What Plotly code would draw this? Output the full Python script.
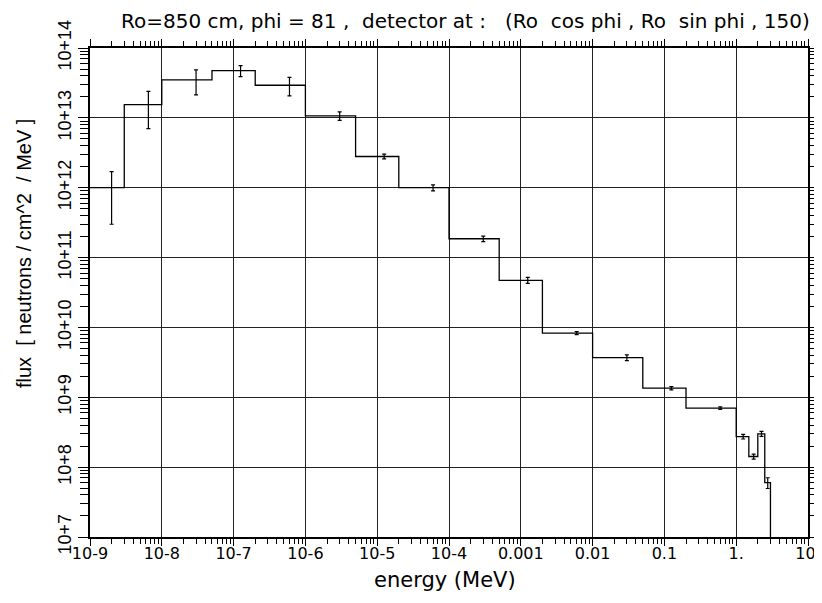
import plotly.graph_objects as go

# ---- data ----
bin_edges = [1e-9, 3e-9, 1e-8, 5e-8, 2e-7, 1e-6, 5e-6, 2e-5, 1e-4, 5e-4,
             2e-3, 1e-2, 5e-2, 0.2, 1.0, 1.5, 2.0, 2.5, 3.0]
flux = [1.0e12, 1.55e13, 3.5e13, 4.75e13, 2.93e13, 1.07e13, 2.8e12, 1.0e12,
        1.86e11, 4.73e10, 8.3e9, 3.7e9, 1.35e9, 7.0e8, 2.74e8, 1.42e8, 3.0e8, 6.0e7]
flux_err = [7e11, 8.5e12, 1.37e13, 8.6e12, 8.7e12, 1.5e12, 2.2e11, 1.0e11,
            1.7e10, 4.6e9, 4e8, 3.5e8, 7e7, 3e7, 2.1e7, 1.2e7, 2.5e7, 1.05e7]

x_tick_vals = [1e-9, 1e-8, 1e-7, 1e-6, 1e-5, 1e-4, 1e-3, 1e-2, 1e-1, 1.0, 10.0]
x_tick_text = ["10-9", "10-8", "10-7", "10-6", "10-5", "10-4", "0.001", "0.01", "0.1", "1.", "10."]
y_tick_vals = [1e7, 1e8, 1e9, 1e10, 1e11, 1e12, 1e13, 1e14]
y_tick_text = ["10+7", "10+8", "10+9", "10+10", "10+11", "10+12", "10+13", "10+14"]

title_text = "Ro=850 cm, phi = 81 ,  detector at :   (Ro  cos phi , Ro  sin phi , 150)"
x_title = "energy (MeV)"
y_title = "flux  [ neutrons / cm^2  / MeV ]"

y_min, y_max = 1e7, 1e14
x_min, x_max = 1e-9, 10.0

# ---- build histogram outline ----
step_x = bin_edges + [bin_edges[-1]]
step_y = flux + [flux[-1], y_min * 0.5]
mid_x = [(a + b) / 2 for a, b in zip(bin_edges[:-1], bin_edges[1:])]

x_minor = [k * 10.0 ** d for d in range(-9, 1) for k in range(2, 10)]
y_minor = [k * 10.0 ** d for d in range(7, 14) for k in range(2, 10)]

fig = go.Figure()
fig.add_trace(go.Scatter(x=step_x, y=step_y, mode="lines", line_shape="hv",
                         line=dict(color="black", width=1.3), showlegend=False,
                         hoverinfo="skip"))
fig.add_trace(go.Scatter(x=mid_x, y=flux, mode="markers",
                         marker=dict(size=1, color="rgba(0,0,0,0)"),
                         error_y=dict(type="data", array=flux_err, visible=True,
                                      color="black", thickness=1.2, width=2),
                         showlegend=False))

axis_common = dict(type="log", showline=True, linewidth=2, linecolor="black",
                   mirror="allticks", ticks="outside", tickcolor="black",
                   showgrid=True, gridcolor="#222222", gridwidth=1,
                   zeroline=False, tickmode="array", automargin=False,
                   ticklabeloverflow="allow")

fig.update_xaxes(**axis_common,
                 range=[-9, 1], tickvals=x_tick_vals, ticktext=x_tick_text,
                 ticklen=7, tickwidth=1, ticklabelstandoff=-6,
                 tickfont=dict(family="DejaVu Sans", size=16, color="black"),
                 minor=dict(tickmode="array", tickvals=x_minor, ticks="outside",
                            ticklen=5, tickcolor="black", tickwidth=1, showgrid=False))
fig.update_yaxes(**axis_common,
                 range=[7, 14], tickvals=y_tick_vals, ticktext=y_tick_text,
                 ticklen=10, tickwidth=1, tickangle=-90,
                 tickfont=dict(family="Liberation Sans", size=18, color="black"),
                 minor=dict(tickmode="array", tickvals=y_minor, ticks="outside",
                            ticklen=8, tickcolor="black", tickwidth=1, showgrid=False))

# page pixel positions (plot area: x 90..808, y 48..537)
fig.add_annotation(text=title_text, xref="paper", yref="paper",
                   x=(812 - 90) / 718.3, y=(537.3 - 21) / 489.6,
                   xanchor="right", yanchor="middle", showarrow=False,
                   font=dict(family="DejaVu Sans", size=20, color="black"))
fig.add_annotation(text=x_title, xref="paper", yref="paper",
                   x=0.495, y=(537.3 - 580) / 489.6,
                   xanchor="center", yanchor="middle", showarrow=False,
                   font=dict(family="DejaVu Sans", size=21, color="black"))
fig.add_annotation(text=y_title, xref="paper", yref="paper",
                   x=(24 - 90) / 718.3, y=(537.3 - 254) / 489.6, textangle=-90,
                   xanchor="center", yanchor="middle", showarrow=False,
                   font=dict(family="Liberation Sans", size=20, color="black"))

# the page body adds an 8px offset, so the figure is shifted by 8px
fig.update_layout(width=814, height=587, plot_bgcolor="white", paper_bgcolor="white",
                  margin=dict(l=82, r=14, t=40, b=57.7), showlegend=False)

fig.write_html("out.html")
